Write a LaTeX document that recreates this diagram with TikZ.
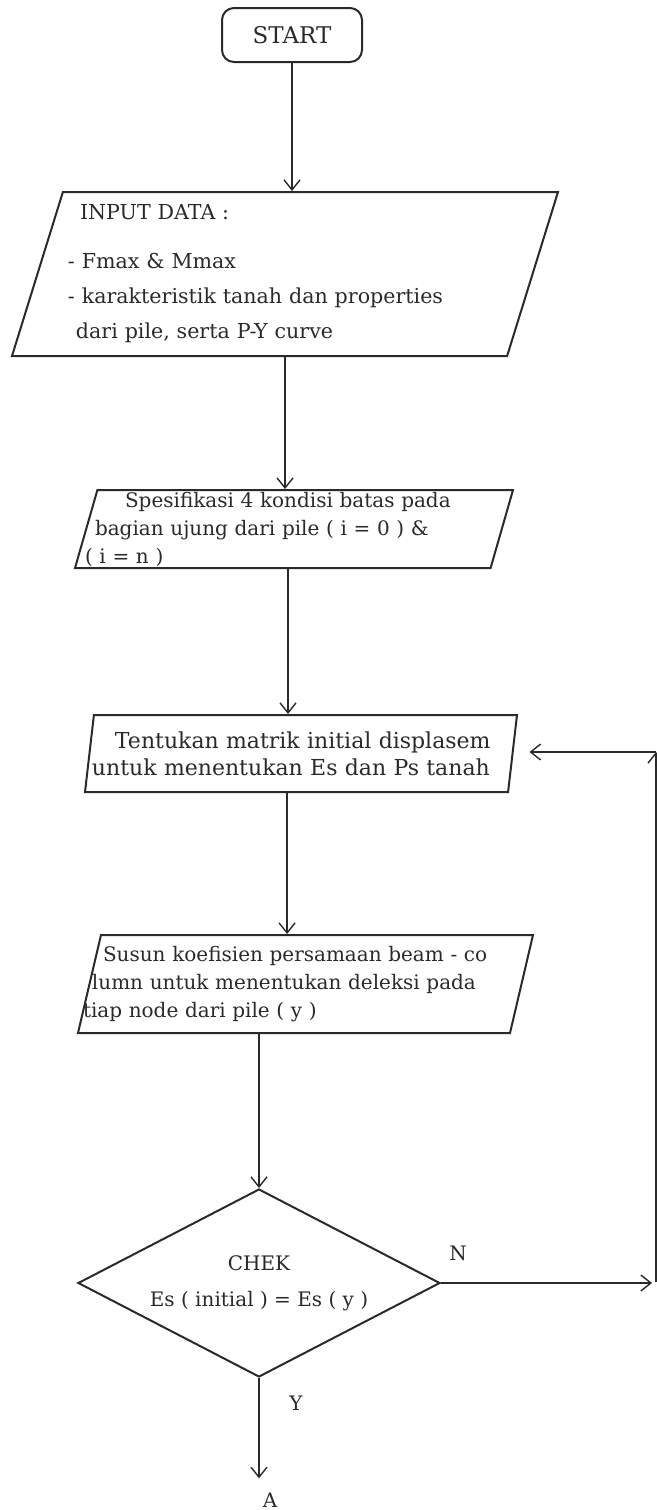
\documentclass[tikz,border=0pt]{standalone}
\usepackage{fontspec}
\setmainfont{DejaVu Serif}
\usetikzlibrary{arrows.meta,positioning,calc,shapes.geometric}
\usepackage{xcolor}
\definecolor{ink}{HTML}{2A2A2A}
\tikzset{
  >={Straight Barb[length=5pt,width=8pt]},
  every node/.style={font=\fontsize{10}{14}\selectfont,text=ink},
  startbox/.style={draw=ink,line width=1pt,rounded corners=6pt,minimum width=70pt,minimum height=27pt},
  iobox/.style={trapezium,trapezium left angle=66,trapezium right angle=114,trapezium stretches body,draw=ink,line width=1pt,align=left,inner xsep=-30pt,inner ysep=-6pt},
  checkbox/.style={diamond,aspect=2,draw=ink,line width=1pt,align=center,inner sep=0pt,minimum width=181pt,minimum height=94pt},
  arrow/.style={->,line width=0.7pt,draw=ink},
  tag/.style={inner sep=1pt},
}

\begin{document}
\begin{tikzpicture}[x=0.5pt,y=-0.5pt]
\useasboundingbox (0,0) rectangle (657,1510);

% --- main column
\node[startbox,font=\fontsize{11.5}{14}\selectfont] (start) at (292,35) {START};
\node[iobox,minimum width=273pt,minimum height=82pt,text width=217pt,font=\fontsize{10.3}{17.5}\selectfont] (input) at (285,274)
{\hspace*{6pt}INPUT DATA :\\[7pt]
- Fmax \& Mmax\\
- karakteristik tanah dan properties\\
\hspace*{4pt}dari pile, serta P-Y curve};
\node[iobox,minimum width=219pt,minimum height=39pt,text width=209pt] (spec) at (294,529)
{\hspace*{20pt}Spesifikasi 4 kondisi batas pada\\
\hspace*{5pt}bagian ujung dari pile ( i = 0 ) \&\\
( i = n )};
\node[iobox,minimum width=216pt,minimum height=38.5pt,text width=240pt,font=\fontsize{11}{13.5}\selectfont] (tent) at (301,753.5)
{\hspace*{27pt}Tentukan matrik initial displasem\\
\hspace*{15.5pt}untuk menentukan Es dan Ps tanah};
\node[iobox,minimum width=227.5pt,minimum height=49pt,text width=222.5pt] (susun) at (305.5,984)
{\hspace*{10pt}Susun koefisien persamaan beam - co\\
\hspace*{4.5pt}lumn untuk menentukan deleksi pada\\
tiap node dari pile ( y )};
\node[checkbox,font=\fontsize{10}{18}\selectfont] (chek) at (259,1283) {CHEK\\Es ( initial ) = Es ( y )};

\node[tag] (nlab) at (458,1253) {N};
\node[tag] (ylab) at (296,1403) {Y};
\node[tag] (alab) at (270,1500) {A};

\draw[arrow] (start.south) -- (start.south |- input.north);
\draw[arrow] (input.south) -- (input.south |- spec.north);
\draw[arrow] ([xshift=-3pt]spec.south) -- ([xshift=-3pt]spec.south |- tent.north);
\draw[arrow] ([xshift=-7pt]tent.south) -- ([xshift=-7pt]tent.south |- susun.north);
\draw[arrow] (chek.north |- susun.south) -- (chek.north);
\draw[arrow,shorten >=6pt] (chek.south) -- (chek.south |- alab.north);

% --- loop back on N
\coordinate (nfoot) at (656,1282);
\coordinate (nhead) at (656,752);
\draw[arrow,shorten >=2pt] (chek.east) -- (chek.east -| nfoot);
\draw[arrow] (nfoot) -- (nhead);
\draw[arrow,shorten >=8pt] (nhead) -- (nhead -| tent.east);

\end{tikzpicture}
\end{document}
